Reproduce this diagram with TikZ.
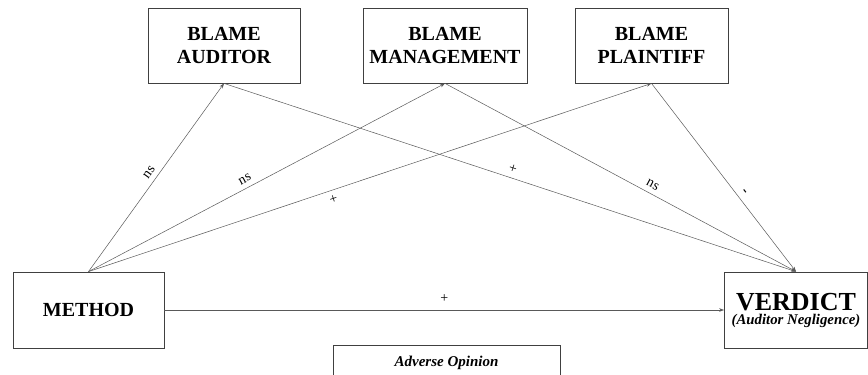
\documentclass[tikz,border=0pt]{standalone}
\usepackage{fontspec}
\setmainfont{Liberation Serif}
\usetikzlibrary{arrows.meta}
\begin{document}
\begin{tikzpicture}[x=1pt,y=-1pt,
  box/.style={draw=black!75, line width=0.8pt, fill=white, align=center, inner sep=0pt},
  blame/.style={box, minimum height=75pt, font=\fontsize{20}{23}\selectfont\bfseries},
  conn/.style={draw=black!65, line width=0.5pt, -{Stealth[length=5pt,width=3.5pt]}},
  lbl/.style={font=\fontsize{14}{14}\selectfont, sloped, inner sep=5pt}
]
\useasboundingbox (0,0) rectangle (868,375);
\clip (0,0) rectangle (868,375);
\node[blame, minimum width=152pt] (ba) at (224,45.5) {BLAME\\AUDITOR};
\node[blame, minimum width=164pt] (bm) at (445,45.5) {BLAME\\MANAGEMENT};
\node[blame, minimum width=153pt] (bp) at (651.5,45.5) {BLAME\\PLAINTIFF};
\node[box, minimum width=151pt, minimum height=76pt, font=\fontsize{20}{23}\selectfont\bfseries] (method) at (88.5,310) {METHOD};
\node[box, minimum width=143pt, minimum height=76pt] (verdict) at (796,310)
  {{\fontsize{26}{26}\selectfont\bfseries VERDICT}\\[2pt]{\fontsize{14.8}{15}\selectfont\bfseries\itshape (Auditor Negligence)}};
\node[box, anchor=north, minimum width=227pt, inner ysep=10pt, text height=11pt, text depth=45pt,
  font=\fontsize{15}{15}\selectfont\bfseries\itshape] (adverse) at (446.5,345) {Adverse Opinion};

\draw[conn] (method.north) -- node[lbl, pos=0.5, above] {ns} (ba.south);
\draw[conn] (method.north) -- node[lbl, pos=0.45, above] {ns} (bm.south);
\draw[conn] (method.north) -- node[lbl, pos=0.43, below] {+} (bp.south);
\draw[conn] (ba.south) -- node[lbl, pos=0.5, above] {+} (verdict.north);
\draw[conn] (bm.south) -- node[lbl, pos=0.58, above] {ns} (verdict.north);
\draw[conn] (bp.south) -- node[lbl, pos=0.6, above, font=\fontsize{14}{14}\selectfont\bfseries] {-} (verdict.north);
\draw[conn] (method.east) -- node[lbl, pos=0.5, above, inner sep=7pt] {+} (verdict.west);
\end{tikzpicture}
\end{document}
